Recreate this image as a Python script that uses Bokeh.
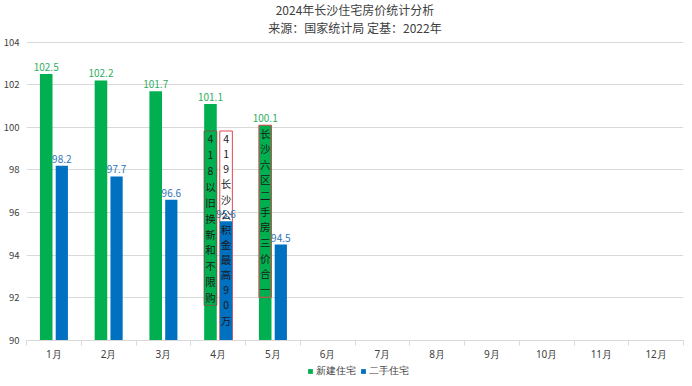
from bokeh.plotting import figure
from bokeh.models import FixedTicker, Title, Legend, LegendItem, Range1d
from bokeh.layouts import column
from bokeh.core.properties import value
from bokeh.embed import file_html
from bokeh.resources import INLINE

# ---- data ----
months = ["1月", "2月", "3月", "4月", "5月", "6月", "7月", "8月", "9月", "10月", "11月", "12月"]
new_home = [102.5, 102.2, 101.7, 101.1, 100.1]
second_hand = [98.2, 97.7, 96.6, 95.6, 94.5]
y_ticks = [90, 92, 94, 96, 98, 100, 102, 104]
series_names = ["新建住宅", "二手住宅"]
title_lines = ["2024年长沙住宅房价统计分析", "来源：国家统计局 定基：2022年"]

# annotation notes (policy events)
note_texts = ["418以旧换新和不限购", "419长沙公积金最高90万", "长沙六区二手房三价合一"]
note_month = [4, 4, 5]
note_series = [0, 1, 0]
note_top = [99.83, 99.83, 100.1]
note_bottom = [91.65, 90.0, 92.03]
note_text_bottom = [91.65, 90.6, 92.03]

# ---- style ----
FONT = "Noto Sans CJK SC"
LFONT = "Noto Sans"
GREEN = "#00b050"
BLUE = "#0070c0"
GREEN_TXT = "#2fae5e"
BLUE_TXT = "#2e75b6"
GRID = "#d9d9d9"
OFFS = [-0.14, 0.145]
BW = 0.23

p = figure(width=684, height=363, output_backend="svg", toolbar_location=None,
           x_range=Range1d(0.5, 12.5), y_range=Range1d(90, 104.31),
           min_border_left=18, min_border_right=1, min_border_top=5, min_border_bottom=23)
p.outline_line_color = None
p.background_fill_color = "white"

for i, line in enumerate(reversed(title_lines)):
    t = Title(text=line, align="center", text_font=FONT, text_font_size="12px",
              text_font_style="normal", text_color="#404040",
              standoff=(0 if i == 0 else -3))
    p.add_layout(t, "above")

n = len(new_home)
xs_idx = [i + 1 for i in range(n)]

# note 2 (white box under blue bar)
for k in range(len(note_texts)):
    if note_series[k] == 1:
        cx = note_month[k] + OFFS[note_series[k]]
        p.quad(left=[cx - BW / 2], right=[cx + BW / 2], top=[note_top[k]], bottom=[note_bottom[k]],
               fill_color="white", line_color="#e0474c", line_width=1)

r_new = p.vbar(x=[x + OFFS[0] for x in xs_idx], top=new_home, bottom=0, width=BW,
               fill_color=GREEN, line_color=None)
r_sec = p.vbar(x=[x + OFFS[1] for x in xs_idx], top=second_hand, bottom=0, width=BW * 0.97,
               fill_color=BLUE, line_color=None)

p.text(x=[x + OFFS[0] for x in xs_idx], y=new_home, text=[f"{v}" for v in new_home],
       text_align="center", text_baseline="bottom", y_offset=-3,
       text_font=value(FONT), text_font_size="10px", text_color=GREEN_TXT)
p.text(x=[x + OFFS[1] for x in xs_idx], y=second_hand, text=[f"{v}" for v in second_hand],
       text_align="center", text_baseline="bottom", y_offset=-3,
       text_font=value(FONT), text_font_size="10px", text_color=BLUE_TXT)

# green boxes
for k in range(len(note_texts)):
    if note_series[k] == 0:
        cx = note_month[k] + OFFS[0]
        border = "#6d5f45" if k == 0 else "#e0474c"
        p.quad(left=[cx - BW / 2], right=[cx + BW / 2], top=[note_top[k]], bottom=[note_bottom[k]],
               fill_color=GREEN, line_color=border, line_width=1)

cx_l, cy_l, ch_l = [], [], []
for k, txt in enumerate(note_texts):
    cx = note_month[k] + OFFS[note_series[k]]
    step = (note_top[k] - note_text_bottom[k]) / len(txt)
    for j, ch in enumerate(txt):
        cx_l.append(cx)
        cy_l.append(note_top[k] - (j + 0.5) * step)
        ch_l.append(ch)
p.text(x=cx_l, y=cy_l, text=ch_l, text_align="center", text_baseline="middle",
       text_font=value(FONT), text_font_size="10.5px", text_color="#1a1a1a")

# axes
p.xaxis.ticker = FixedTicker(ticks=list(range(1, 13)), minor_ticks=[0.5 + i for i in range(13)])
p.xaxis.major_label_overrides = {i + 1: m for i, m in enumerate(months)}
p.xaxis.axis_line_color = GRID
p.xaxis.major_tick_line_color = None
p.xaxis.major_tick_out = 0
p.xaxis.major_tick_in = 0
p.xaxis.minor_tick_line_color = GRID
p.xaxis.minor_tick_in = 0
p.xaxis.minor_tick_out = 5
p.xaxis.axis_label_standoff = 0
p.xaxis.major_label_text_font = LFONT
p.xaxis.major_label_text_font_size = "10px"
p.xaxis.major_label_text_color = "#404040"
p.xaxis.major_label_standoff = 1

p.yaxis.ticker = FixedTicker(ticks=y_ticks)
p.yaxis.axis_line_color = None
p.yaxis.major_tick_line_color = None
p.yaxis.minor_tick_line_color = None
p.yaxis.major_tick_out = 0
p.yaxis.major_tick_in = 0
p.yaxis.minor_tick_out = 0
p.yaxis.minor_tick_in = 0
p.yaxis.axis_label_standoff = 0
p.yaxis.major_label_text_font = FONT
p.yaxis.major_label_text_font_size = "9.5px"
p.yaxis.major_label_text_color = "#404040"
p.yaxis.major_label_standoff = 7

p.xgrid.visible = False
p.ygrid.ticker = FixedTicker(ticks=y_ticks)
p.ygrid.grid_line_color = GRID

# legend strip below the chart
lg = figure(width=690, height=16, output_backend="svg", toolbar_location=None,
            x_axis_location=None, y_axis_location=None, min_border=0,
            x_range=Range1d(0, 1), y_range=Range1d(0, 1))
lg.outline_line_color = None
lg.xgrid.visible = False
lg.ygrid.visible = False
d_new = lg.vbar(x=[-5], top=[-5], bottom=[-6], width=0.1, fill_color=GREEN, line_color=None)
d_sec = lg.vbar(x=[-5], top=[-5], bottom=[-6], width=0.1, fill_color=BLUE, line_color=None)
legend = Legend(items=[LegendItem(label=series_names[0], renderers=[d_new]),
                       LegendItem(label=series_names[1], renderers=[d_sec])],
                orientation="horizontal", location="center", border_line_color=None,
                background_fill_alpha=0,
                label_text_font=LFONT, label_text_font_size="9.5px", label_text_color="#404040",
                glyph_width=6, glyph_height=6, spacing=4, padding=0, margin=0,
                label_standoff=3, label_height=12)
lg.add_layout(legend, "center")

layout = column(p, lg, spacing=0)
open("out.html", "w").write(file_html(layout, INLINE))
